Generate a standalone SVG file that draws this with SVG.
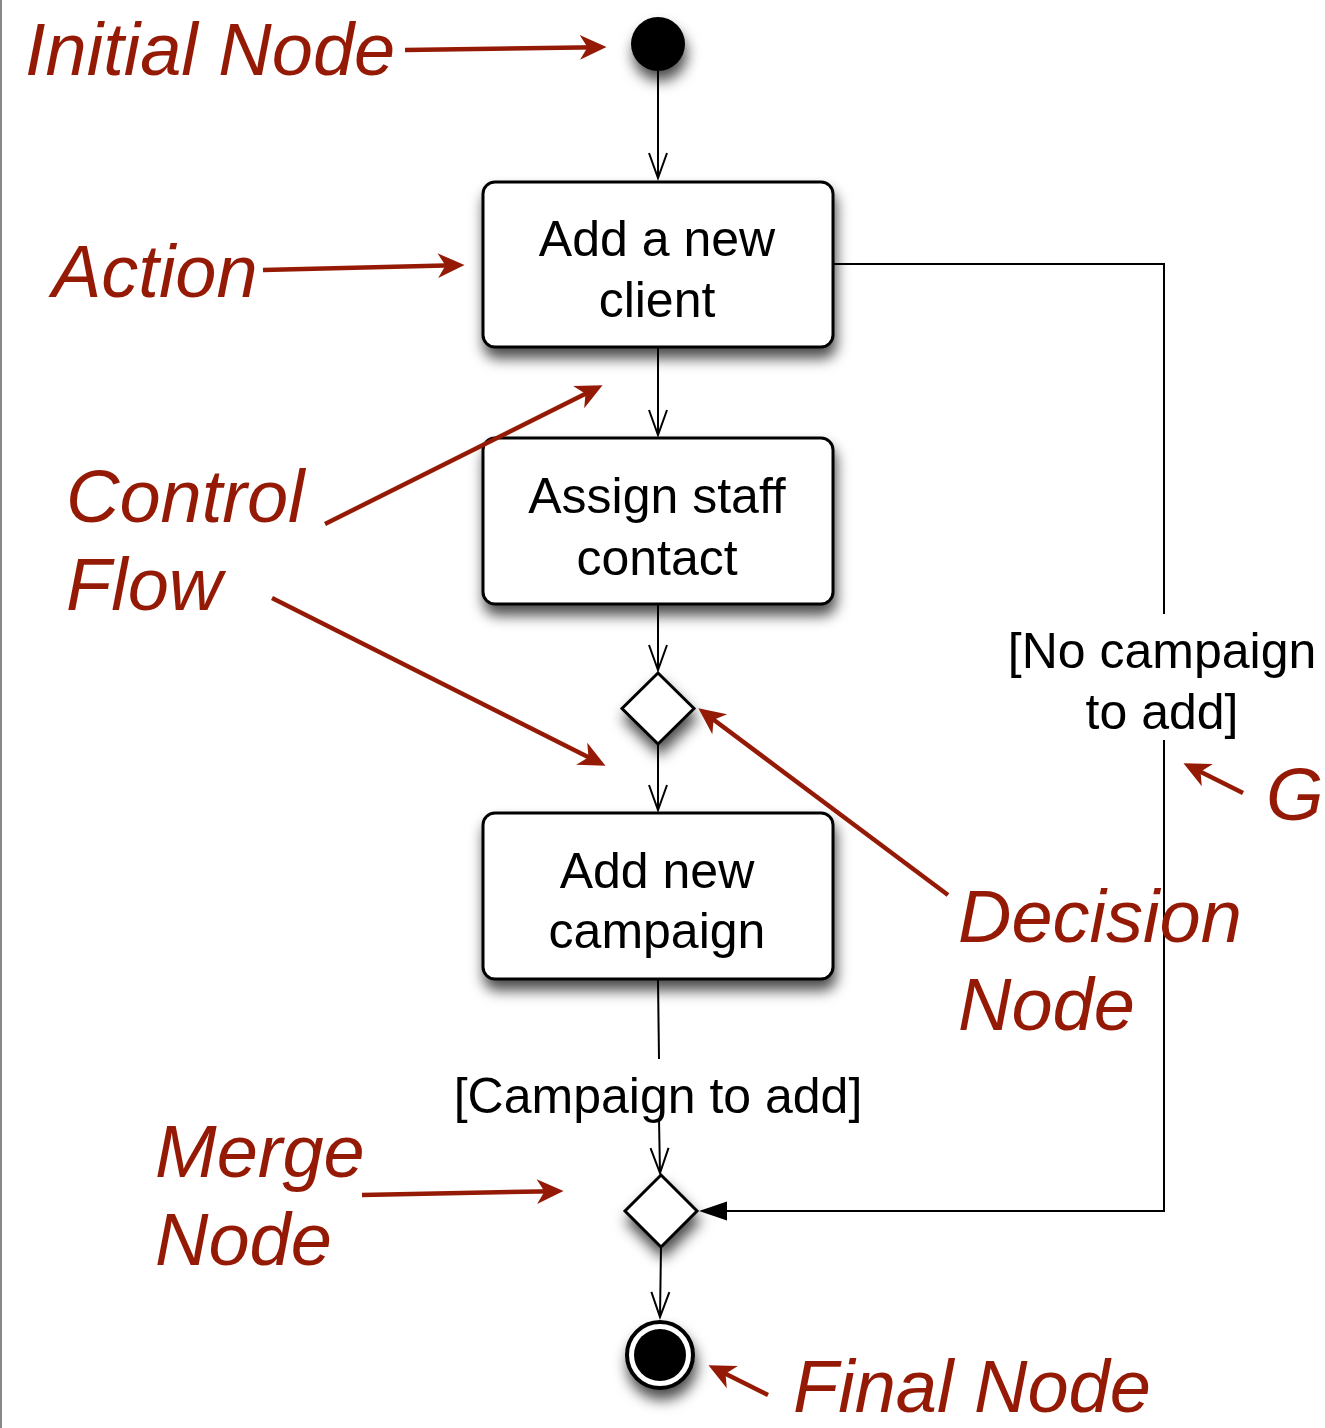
<svg xmlns="http://www.w3.org/2000/svg" width="1325" height="1428" viewBox="0 0 1325 1428">
  <style>
    .bg { fill: #ffffff; }
    .edge { stroke: #888888; stroke-width: 2; }
    .node { fill: #ffffff; stroke: #000000; stroke-width: 3; }
    .dot { fill: #000000; }
    .flow { fill: none; stroke: #000000; stroke-width: 2; }
    .label { font-family: "Liberation Sans", Arial, sans-serif; font-size: 50px; fill: #000000; text-anchor: middle; }
    .note { font-family: "Liberation Sans", Arial, sans-serif; font-style: italic; font-size: 74px; fill: #951a05; }
    .pointer { fill: none; stroke: #951a05; stroke-width: 4.5; }
  </style>
  <defs>
    <filter id="shadow" x="-40%" y="-40%" width="180%" height="190%">
      <feDropShadow dx="2" dy="10" stdDeviation="7" flood-color="#000000" flood-opacity="0.7"/>
    </filter>
    <marker id="open" markerUnits="userSpaceOnUse" markerWidth="32" markerHeight="26" viewBox="-28 -13 32 26" refX="0" refY="0" orient="auto">
      <path d="M-25,-9 L0,0 L-25,9" fill="none" stroke="#000000" stroke-width="2"/>
    </marker>
    <marker id="red" markerUnits="userSpaceOnUse" markerWidth="40" markerHeight="32" viewBox="-30 -16 42 32" refX="0" refY="0" orient="auto">
      <path d="M10,0 L-18,-13 L-10,0 L-18,13 Z" fill="#951a05"/>
    </marker>
  </defs>

  <rect class="bg" x="0" y="0" width="1325" height="1428"/>
  <line class="edge" x1="1" y1="0" x2="1" y2="1428"/>

  <!-- control flows -->
  <g id="connectors">
    <line class="flow" x1="658" y1="71" x2="658" y2="178" marker-end="url(#open)"/>
    <line class="flow" x1="658" y1="348" x2="658" y2="435" marker-end="url(#open)"/>
    <line class="flow" x1="658" y1="605" x2="658" y2="670" marker-end="url(#open)"/>
    <line class="flow" x1="658" y1="745" x2="658" y2="810" marker-end="url(#open)"/>
    <line class="flow" x1="658" y1="980" x2="659" y2="1059"/>
    <line class="flow" x1="659" y1="1119" x2="660" y2="1173" marker-end="url(#open)"/>
    <line class="flow" x1="661" y1="1247" x2="660" y2="1317" marker-end="url(#open)"/>
    <polyline class="flow" points="834,264 1164,264 1164,614"/>
    <polyline class="flow" points="1164,740 1164,1211 724,1211"/>
    <text class="label" x="658" y="1113">[Campaign to add]</text>
    <text class="label" x="1162" y="668">[No campaign</text>
    <text class="label" x="1162" y="729">to add]</text>
  </g>

  <g id="initial-node">
    <circle class="dot" cx="658" cy="44" r="27" filter="url(#shadow)"/>
  </g>

  <g id="add-client">
    <rect class="node" x="483" y="182" width="350" height="165" rx="12" filter="url(#shadow)"/>
    <text class="label" x="657" y="256">Add a new</text>
    <text class="label" x="657" y="317">client</text>
  </g>

  <g id="assign-staff">
    <rect class="node" x="483" y="438" width="350" height="166" rx="12" filter="url(#shadow)"/>
    <text class="label" x="657" y="513">Assign staff</text>
    <text class="label" x="657" y="575">contact</text>
  </g>

  <g id="decision">
    <polygon class="node" points="658,673 694,708.5 658,744 622,708.5" filter="url(#shadow)"/>
  </g>

  <g id="add-campaign">
    <rect class="node" x="483" y="813" width="350" height="166" rx="12" filter="url(#shadow)"/>
    <text class="label" x="657" y="888">Add new</text>
    <text class="label" x="657" y="948">campaign</text>
  </g>

  <g id="merge">
    <polygon class="node" points="661,1175 697,1211 661,1247 625,1211" filter="url(#shadow)"/>
    <!-- filled head of the guarded flow coming in from the right -->
    <polygon points="699,1211 727,1201.5 727,1220.5" fill="#000000"/>
  </g>

  <g id="final-node">
    <circle cx="660" cy="1355" r="33" fill="#ffffff" stroke="#000000" stroke-width="4" filter="url(#shadow)"/>
    <circle class="dot" cx="660" cy="1355" r="26"/>
  </g>

  <!-- red callouts -->
  <g id="callouts">
    <text class="note" x="25" y="75">Initial Node</text>
    <line class="pointer" x1="405" y1="50" x2="597" y2="47.2" marker-end="url(#red)"/>

    <text class="note" x="52" y="297">Action</text>
    <line class="pointer" x1="263" y1="270" x2="455" y2="265.3" marker-end="url(#red)"/>

    <text class="note" x="66" y="522">Control</text>
    <text class="note" x="66" y="610">Flow</text>
    <line class="pointer" x1="325" y1="524" x2="594" y2="389.5" marker-end="url(#red)"/>
    <line class="pointer" x1="272" y1="598" x2="597" y2="761.5" marker-end="url(#red)"/>

    <text class="note" x="958" y="942">Decision</text>
    <text class="note" x="958" y="1030">Node</text>
    <line class="pointer" x1="948" y1="895" x2="706" y2="714" marker-end="url(#red)"/>

    <text class="note" x="1266" y="820">G</text>
    <line class="pointer" x1="1243" y1="793" x2="1192" y2="767.5" marker-end="url(#red)"/>

    <text class="note" x="155" y="1177">Merge</text>
    <text class="note" x="155" y="1265">Node</text>
    <line class="pointer" x1="362" y1="1195" x2="554" y2="1191.2" marker-end="url(#red)"/>

    <text class="note" x="793" y="1412">Final Node</text>
    <line class="pointer" x1="768" y1="1395" x2="717" y2="1369.5" marker-end="url(#red)"/>
  </g>
</svg>
